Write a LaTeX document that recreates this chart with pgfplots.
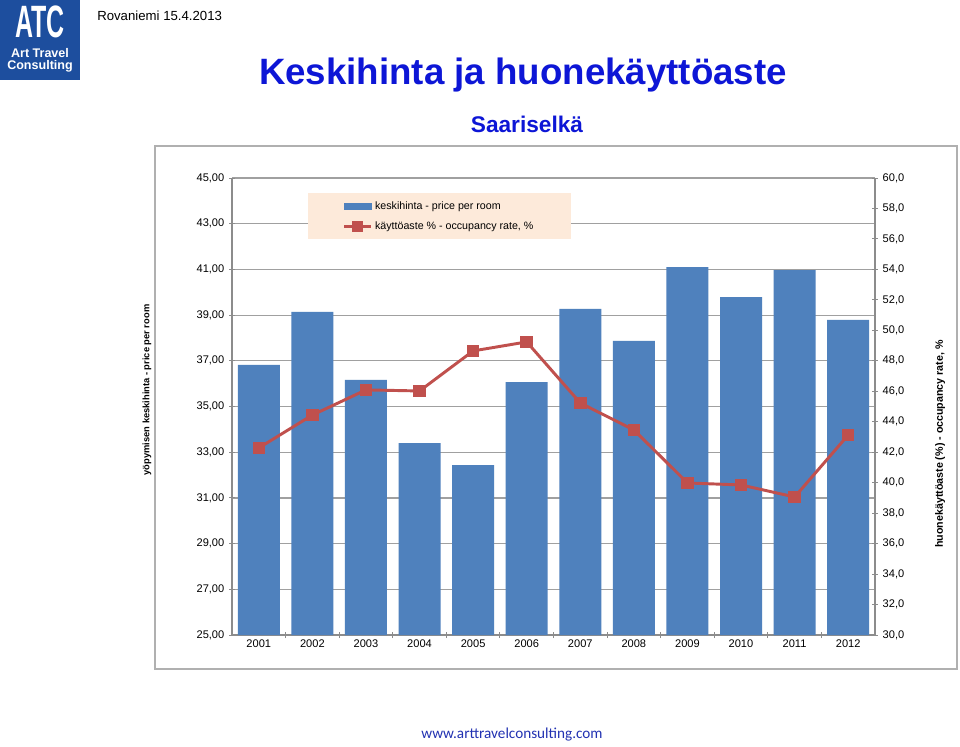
\documentclass[border=0pt]{standalone}
\usepackage{pgfplots}
\pgfplotsset{compat=1.18}
\usepackage{fontspec}
\setmainfont{Liberation Sans}
\newfontfamily\calibri{Carlito}
\usepackage{graphicx}
\definecolor{barblue}{HTML}{4F81BD}
\definecolor{linered}{HTML}{C0504D}
\definecolor{legfill}{HTML}{FDEADA}
\definecolor{titleblue}{HTML}{0D16D6}
\definecolor{logoblue}{HTML}{1D4E9E}
\definecolor{footblue}{HTML}{2232B2}
\definecolor{gridgray}{HTML}{A0A0A0}
\definecolor{axisgray}{HTML}{8C8C8C}
\definecolor{framegray}{HTML}{B0B0B0}
\pgfplotsset{mylegline/.style={legend image code/.code={\draw[mark repeat=2,mark phase=2,##1,mark size=2.8pt] plot coordinates {(0pt,0pt) (10pt,0pt) (20pt,0pt)};}}}
\pgfplotsset{mylegbar/.style={legend image code/.code={\fill[barblue] (0pt,-2pt) rectangle (20pt,2pt);}}}
\begin{document}
\begin{tikzpicture}
\begin{scope}[x=0.75pt,y=-0.75pt]
\path[use as bounding box, fill=white] (0,0) rectangle (960,746);
\fill[logoblue] (0,0) rectangle (80,80);
\node[white, font=\bfseries\fontsize{34}{34}\selectfont, inner sep=0pt] at (40,22) {\scalebox{0.55}[1]{ATC}};
\node[white, font=\bfseries\fontsize{9.4}{10}\selectfont, inner sep=0pt] at (40,53) {Art Travel};
\node[white, font=\bfseries\fontsize{9.4}{10}\selectfont, inner sep=0pt] at (40,66) {Consulting};
\node[anchor=west, font=\fontsize{9.9}{12}\selectfont, inner sep=0pt] at (97,16) {Rovaniemi 15.4.2013};
\node[titleblue, font=\bfseries\fontsize{27.5}{30}\selectfont, inner sep=0pt] at (523,75) {Keskihinta ja huonekäyttöaste};
\node[titleblue, font=\bfseries\fontsize{17}{20}\selectfont, inner sep=0pt] at (527,124) {Saariselkä};
\node[footblue, font=\calibri\fontsize{11.4}{13}\selectfont, inner sep=0pt] at (512,735) {www.arttravelconsulting.com};
\draw[framegray, line width=1.2pt] (155,146) rectangle (957,669);
\end{scope}

\begin{axis}[
  at={(174pt,-476.25pt)}, anchor=south west,
  width=482.25pt, height=342.75pt, scale only axis,
  ybar, bar width=31.5pt,
  xmin=2000.5, xmax=2012.5, ymin=25, ymax=45,
  axis x line*=bottom, axis y line*=left,
  axis line style={axisgray, line width=0.9pt},
  ytick={25,27,...,45},
  ymajorgrids, major grid style={gridgray, line width=0.9pt},
  xtick={2001.5,2002.5,...,2011.5}, xticklabels={},
  extra x ticks={2001,2002,...,2012},
  extra x tick labels={2001,2002,2003,2004,2005,2006,2007,2008,2009,2010,2011,2012},
  extra x tick style={major tick length=0pt, grid=none},
  tick align=center, major tick length=4.5pt,
  tick style={axisgray, line width=0.75pt},
  ticklabel style={font=\fontsize{8.3}{10}\selectfont},
  yticklabel style={/pgf/number format/.cd, fixed, fixed zerofill, precision=2, use comma},
  /pgf/number format/assume math mode=true,
]
\addplot[fill=barblue, draw=none] coordinates {
(2001,36.82) (2002,39.14) (2003,36.16) (2004,33.40) (2005,32.44) (2006,36.07)
(2007,39.27) (2008,37.87) (2009,41.10) (2010,39.79) (2011,40.97) (2012,38.79)};
\end{axis}

\begin{axis}[
  at={(174pt,-476.25pt)}, anchor=south west,
  width=482.25pt, height=342.75pt, scale only axis,
  xmin=2000.5, xmax=2012.5, ymin=30, ymax=60,
  axis x line=none, axis y line*=right,
  axis line style={axisgray, line width=0.9pt},
  ytick={30,32,...,60},
  tick align=center, major tick length=4.5pt,
  tick style={axisgray, line width=0.75pt},
  ticklabel style={font=\fontsize{8.3}{10}\selectfont},
  yticklabel style={/pgf/number format/.cd, fixed, fixed zerofill, precision=1, use comma},
  /pgf/number format/assume math mode=true,
  legend style={at={(0.118,0.967)}, anchor=north west, fill=legfill, draw=none,
    font=\fontsize{8}{9.6}\selectfont, inner xsep=26pt, inner ysep=4pt, row sep=4pt},
  legend cell align=left,
]
\addlegendimage{mylegbar}
\addlegendentry{keskihinta - price per room}
\addplot[linered, line width=2.2pt, mark=square*, mark size=3.6pt, mark options={solid}, mylegline]
coordinates {
(2001,42.28) (2002,44.44) (2003,46.09) (2004,46.02) (2005,48.65) (2006,49.24)
(2007,45.23) (2008,43.46) (2009,39.98) (2010,39.85) (2011,39.06) (2012,43.13)};
\addlegendentry{käyttöaste \% - occupancy rate, \%}
\end{axis}

\begin{scope}[x=0.75pt,y=-0.75pt]
\node[rotate=90, font=\bfseries\fontsize{7}{8}\selectfont, inner sep=0pt] at (147,390) {yöpymisen keskihinta - price per room};
\node[rotate=90, font=\bfseries\fontsize{8}{9}\selectfont, inner sep=0pt] at (940,444) {huonekäyttöaste (\%) - occupancy rate, \%};
\end{scope}
\end{tikzpicture}
\end{document}
